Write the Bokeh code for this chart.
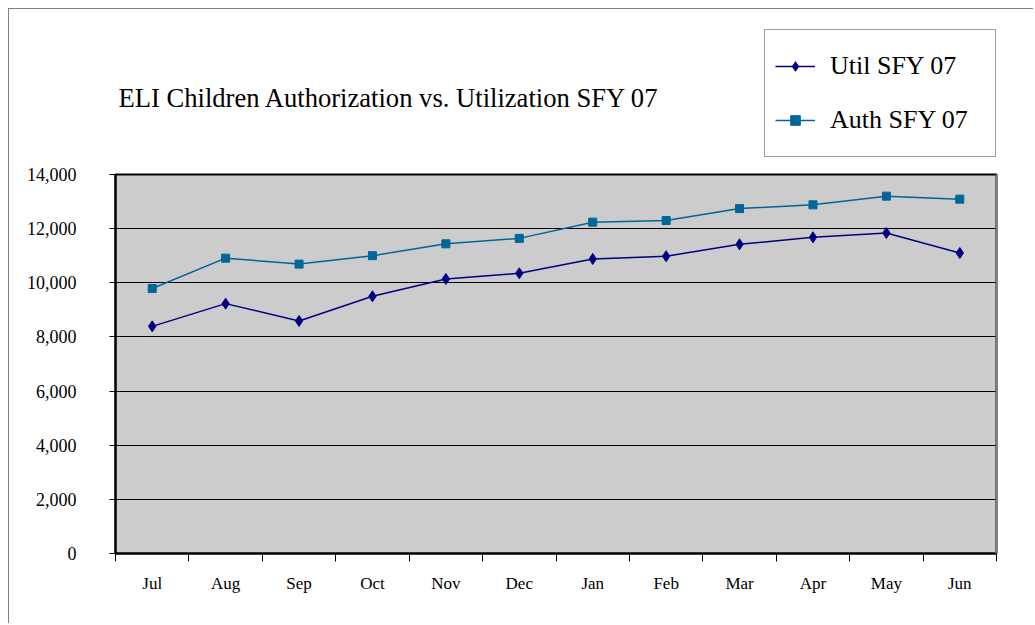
from bokeh.plotting import figure
from bokeh.layouts import column
from bokeh.models import (Range1d, FixedTicker, NumeralTickFormatter, Legend, LegendItem,
                          Label, LinearAxis, ColumnDataSource)
from bokeh.embed import file_html
from bokeh.resources import INLINE

months = ["Jul", "Aug", "Sep", "Oct", "Nov", "Dec", "Jan", "Feb", "Mar", "Apr", "May", "Jun"]
util_sfy07 = [8390, 9230, 8590, 9500, 10140, 10350, 10880, 10980, 11420, 11680, 11840, 11100]
auth_sfy07 = [9790, 10910, 10690, 11000, 11440, 11640, 12240, 12300, 12740, 12880, 13200, 13090]
y_ticks = [0, 2000, 4000, 6000, 8000, 10000, 12000, 14000]
title_text = "ELI Children Authorization vs. Utilization SFY 07"
series_names = ["Util SFY 07", "Auth SFY 07"]

SERIF = "Liberation Serif"
util_color = "#000080"
auth_color = "#006699"

W = 1024
TOP_H = 151
MAIN_H = 463
FRAME_W = 881

xs = [i + 0.5 for i in range(len(months))]
src = ColumnDataSource(dict(x=xs, util=util_sfy07, auth=auth_sfy07))

# ---- header: title and legend (its frame is aligned with the chart frame) ----
top = figure(width=W, height=TOP_H, output_backend="svg", toolbar_location=None,
             x_range=Range1d(0, FRAME_W), y_range=Range1d(0, TOP_H), min_border=0,
             x_axis_location=None, y_axis_location=None)
top.outline_line_color = None
top.background_fill_color = "white"
top.border_fill_color = "white"
top.xgrid.visible = False
top.ygrid.visible = False

# legend renderers: the same series, lying outside this header's visible range
dl1 = top.line("x", "util", source=src, line_color=util_color, line_width=1.5)
dm1 = top.scatter("x", "util", source=src, marker="diamond", size=11,
                  fill_color=util_color, line_color=util_color)
dl2 = top.line("x", "auth", source=src, line_color=auth_color, line_width=1.5)
dm2 = top.scatter("x", "auth", source=src, marker="square", size=8,
                  fill_color=auth_color, line_color=auth_color)

legend = Legend(items=[LegendItem(label=series_names[0], renderers=[dl1, dm1]),
                       LegendItem(label=series_names[1], renderers=[dl2, dm2])],
                location=(649, 3))
legend.label_text_font = SERIF
legend.label_text_font_size = "26px"
legend.label_text_color = "black"
legend.padding = 10
legend.spacing = 2
legend.margin = 0
legend.glyph_width = 40
legend.glyph_height = 24
legend.label_height = 52
legend.label_standoff = 15
legend.label_width = 155
legend.border_line_color = "#404040"
legend.border_line_width = 1.3
legend.background_fill_color = "white"
legend.background_fill_alpha = 1
top.add_layout(legend, "center")

title = Label(x=3, y=63, text=title_text, text_font=SERIF, text_font_size="26.6px",
              text_color="black", text_baseline="alphabetic", text_align="left")
top.add_layout(title)

# ---- main chart ----
p = figure(width=W, height=MAIN_H, output_backend="svg", toolbar_location=None,
           x_range=Range1d(0, len(months)), y_range=Range1d(0, 14000),
           min_border_left=106, min_border_right=37, min_border_top=14, min_border_bottom=70,
           x_axis_location=None, y_axis_location=None)

p.background_fill_color = "#CCCCCC"
p.border_fill_color = "white"
p.outline_line_color = "black"
p.outline_line_width = 2

yax = LinearAxis(ticker=FixedTicker(ticks=y_ticks), formatter=NumeralTickFormatter(format="0,0"))
yax.axis_line_color = "black"
yax.axis_line_width = 2
yax.major_tick_out = 6
yax.major_tick_in = 0
yax.minor_tick_out = 0
yax.minor_tick_in = 0
yax.major_tick_line_color = "black"
yax.major_label_text_font = SERIF
yax.major_label_text_font_size = "18px"
yax.major_label_text_color = "black"
yax.major_label_standoff = 33
p.add_layout(yax, "left")

xax = LinearAxis(ticker=FixedTicker(ticks=xs, minor_ticks=list(range(len(months) + 1))))
xax.major_label_overrides = {x: m for x, m in zip(xs, months)}
xax.axis_line_color = "black"
xax.axis_line_width = 2
xax.major_tick_out = 0
xax.major_tick_in = 0
xax.minor_tick_out = 8
xax.minor_tick_in = 0
xax.minor_tick_line_color = "black"
xax.major_label_text_font = SERIF
xax.major_label_text_font_size = "17px"
xax.major_label_text_color = "black"
xax.major_label_standoff = 12
p.add_layout(xax, "below")

rax = LinearAxis(ticker=FixedTicker(ticks=[]))
rax.axis_line_color = "#808080"
rax.axis_line_width = 2
rax.major_tick_out = 0
rax.minor_tick_out = 0
rax.major_label_text_font_size = "0px"
p.add_layout(rax, "right")

p.xgrid.visible = False
p.ygrid.ticker = FixedTicker(ticks=y_ticks)
p.ygrid.grid_line_color = "black"
p.ygrid.grid_line_width = 1

p.line("x", "util", source=src, line_color=util_color, line_width=1.5)
p.scatter("x", "util", source=src, marker="diamond", size=11,
          fill_color=util_color, line_color=util_color)
p.line("x", "auth", source=src, line_color=auth_color, line_width=1.5)
p.scatter("x", "auth", source=src, marker="square", size=8,
          fill_color=auth_color, line_color=auth_color)

layout = column(top, p, spacing=0,
                styles={"margin-left": "8px", "margin-top": "8px",
                        "border-left": "1px solid #808080", "border-top": "1px solid #808080"})

open("out.html", "w").write(file_html(layout, INLINE))
